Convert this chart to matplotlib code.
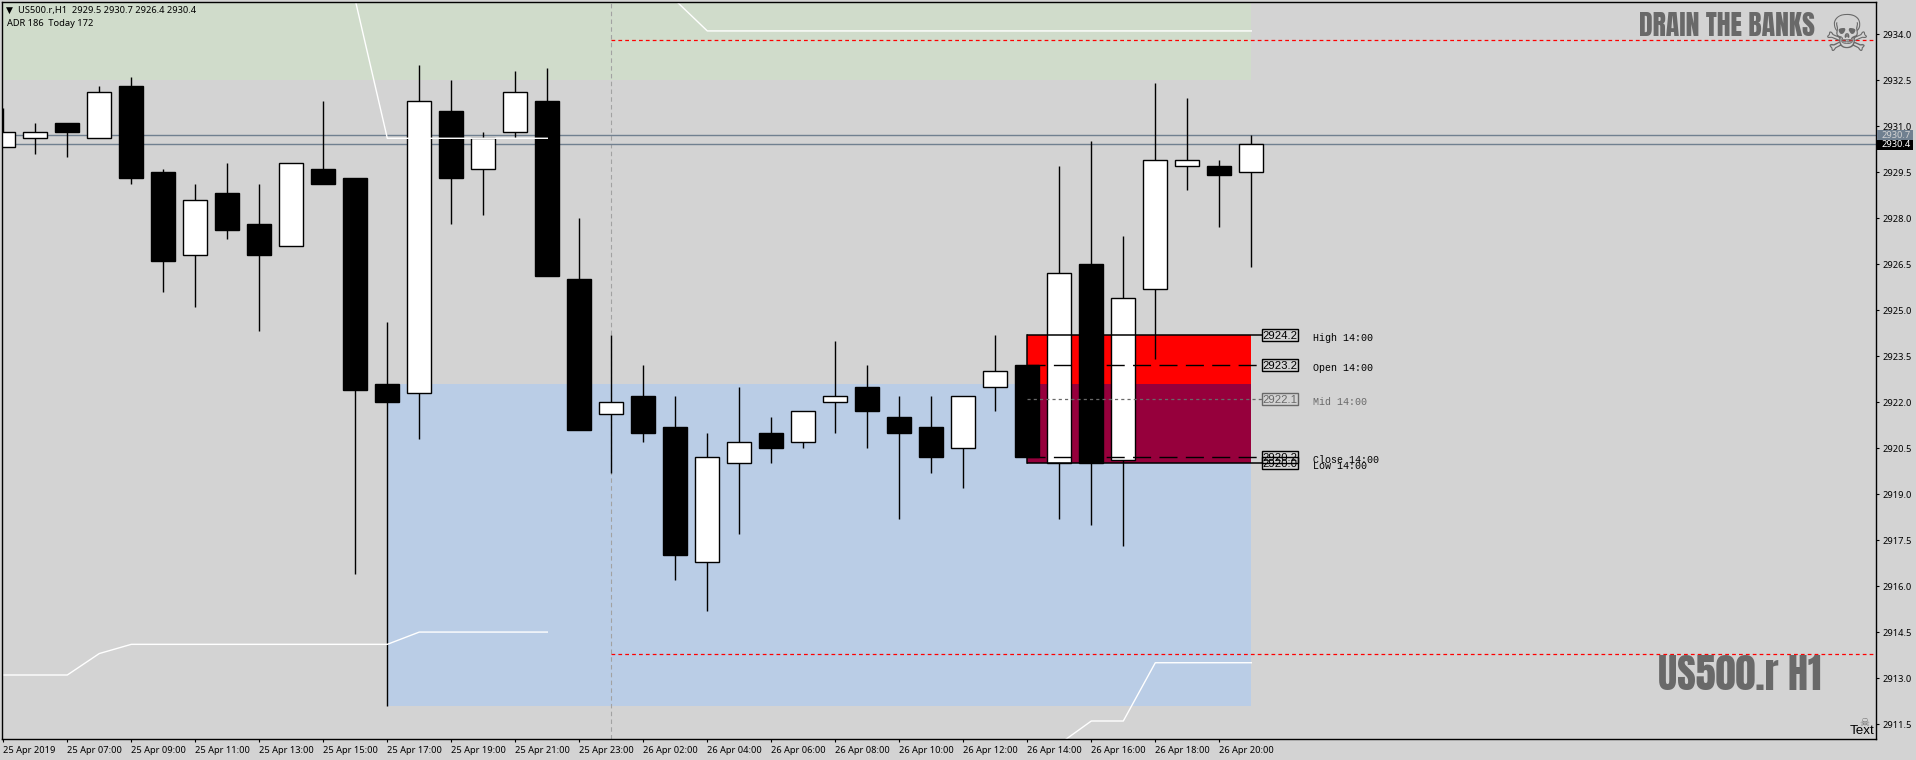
import matplotlib
matplotlib.use('Agg')
import matplotlib.pyplot as plt
from matplotlib.patches import Rectangle
import numpy as np

# hourly candles
opens = [2930.3, 2930.6, 2931.1, 2930.6, 2932.3, 2929.5, 2926.8, 2928.8, 2927.8, 2927.1,
         2929.6, 2929.3, 2922.6, 2922.3, 2931.5, 2929.6, 2930.8, 2931.8, 2926.0, 2921.6,
         2922.2, 2921.2, 2916.8, 2920.0, 2921.0, 2920.7, 2922.0, 2922.5, 2921.5, 2921.2,
         2920.5, 2922.5, 2923.2, 2920.0, 2926.5, 2920.1, 2925.7, 2929.7, 2929.7, 2929.5]
highs = [2931.6, 2931.1, 2931.1, 2932.3, 2932.6, 2929.6, 2929.1, 2929.8, 2929.1, 2929.8,
         2931.8, 2929.3, 2924.6, 2933.0, 2932.5, 2930.8, 2932.8, 2932.9, 2928.0, 2924.2,
         2923.2, 2922.2, 2921.0, 2922.5, 2921.5, 2921.7, 2924.0, 2923.2, 2922.2, 2922.2,
         2922.2, 2924.2, 2923.2, 2929.7, 2930.5, 2927.4, 2932.4, 2931.9, 2929.9, 2930.7]
lows = [2930.3, 2930.1, 2930.0, 2930.6, 2929.1, 2925.6, 2925.1, 2927.3, 2924.3, 2927.1,
        2929.1, 2916.4, 2912.1, 2920.8, 2927.8, 2928.1, 2930.6, 2926.1, 2921.1, 2919.7,
        2920.7, 2916.2, 2915.2, 2917.7, 2920.0, 2920.5, 2921.0, 2920.5, 2918.2, 2919.7,
        2919.2, 2921.7, 2920.2, 2918.2, 2918.0, 2917.3, 2923.4, 2928.9, 2927.7, 2926.4]
closes = [2930.8, 2930.8, 2930.8, 2932.1, 2929.3, 2926.6, 2928.6, 2927.6, 2926.8, 2929.8,
          2929.1, 2922.4, 2922.0, 2931.8, 2929.3, 2930.6, 2932.1, 2926.1, 2921.1, 2922.0,
          2921.0, 2917.0, 2920.2, 2920.7, 2920.5, 2921.7, 2922.2, 2921.7, 2921.0, 2920.2,
          2922.2, 2923.0, 2920.2, 2926.2, 2920.0, 2925.4, 2929.9, 2929.9, 2929.4, 2930.4]

time_labels = ['25 Apr 2019', '25 Apr 07:00', '25 Apr 09:00', '25 Apr 11:00', '25 Apr 13:00',
               '25 Apr 15:00', '25 Apr 17:00', '25 Apr 19:00', '25 Apr 21:00', '25 Apr 23:00',
               '26 Apr 02:00', '26 Apr 04:00', '26 Apr 06:00', '26 Apr 08:00', '26 Apr 10:00',
               '26 Apr 12:00', '26 Apr 14:00', '26 Apr 16:00', '26 Apr 18:00', '26 Apr 20:00']
price_ticks = [2934.0, 2932.5, 2931.0, 2929.5, 2928.0, 2926.5, 2925.0, 2923.5,
               2922.0, 2920.5, 2919.0, 2917.5, 2916.0, 2914.5, 2913.0, 2911.5]

# white indicator line, two pieces on each side
upper_a_x = [11, 12, 17]
upper_a_y = [2935.1, 2930.6, 2930.6]
upper_b_x = [21, 22, 39]
upper_b_y = [2935.1, 2934.1, 2934.1]
lower_a_x = [0, 2, 3, 4, 12, 13, 17]
lower_a_y = [2913.1, 2913.1, 2913.8, 2914.1, 2914.1, 2914.5, 2914.5]
lower_b_x = [33, 34, 35, 36, 39]
lower_b_y = [2910.85, 2911.6, 2911.6, 2913.5, 2913.5]

level_names = ['High', 'Open', 'Mid', 'Close', 'Low']
level_values = [2924.2, 2923.2, 2922.1, 2920.2, 2920.0]

bid_price = 2930.7
ask_price = 2930.4
red_levels = [2933.8, 2913.8]

BG = '#D3D3D3'
GREEN = '#D0DCCB'
BLUE = '#BACDE6'
MAROON = '#96003C'
SLATE = '#708090'
DIM = '#696969'
UI_FONT = ['Noto Sans', 'DejaVu Sans']
POSTER_FONT = ['Anton', 'Liberation Sans']
SKULL_FONT = ['DejaVu Sans']

W, H = 1916, 760
fig = plt.figure(figsize=(W / 100, H / 100), dpi=100, facecolor=BG)
left, right, top, bottom = 2.4, 1875.7, 2.3, 739.3
ax = fig.add_axes([left / W, 1 - bottom / H, (right - left) / W, (bottom - top) / H], facecolor=BG)

px_x = 32.0
px_y = 30.67
ax.set_xlim((left - 3.3) / px_x, (right - 3.3) / px_x)
ax.set_ylim(2934 - (bottom - 34) / px_y, 2934 + (34 - top) / px_y)

x = np.arange(len(opens))
opens = np.array(opens)
closes = np.array(closes)
up = closes > opens

# zones
ax.add_patch(Rectangle((ax.get_xlim()[0], 2932.5), 39 - ax.get_xlim()[0], 3, fc=GREEN, ec='none', zorder=1))
ax.add_patch(Rectangle((12, 2912.1), 27, 10.5, fc=BLUE, ec='none', zorder=1))
ax.add_patch(Rectangle((32, 2922.6), 7, 1.6, fc='#FF0000', ec='none', zorder=1.2))
ax.add_patch(Rectangle((32, 2920.0), 7, 2.6, fc=MAROON, ec='none', zorder=1.2))

# bid / ask and the red levels
ax.axhline(bid_price, color=SLATE, lw=1.0, zorder=1.5)
ax.axhline(ask_price, color=SLATE, lw=1.0, zorder=1.5)
for v in red_levels:
    ax.plot([19, ax.get_xlim()[1]], [v, v], color='#FF0000', lw=0.9, dashes=(3, 2.5), zorder=1.6)
ax.axvline(19, color='#A2A2A2', lw=0.8, dashes=(4, 3), zorder=1.4)

# candles
ax.vlines(x, lows, highs, color='black', lw=1.0, zorder=2)
body = np.abs(closes - opens)
bottoms = np.minimum(opens, closes)
ax.bar(x[up], body[up], bottom=bottoms[up], width=0.74, color='white', edgecolor='black', lw=1.0, zorder=3)
ax.bar(x[~up], body[~up], bottom=bottoms[~up], width=0.76, color='black', edgecolor='black', lw=1.0, zorder=3)

# indicator
for lx, ly in [(upper_a_x, upper_a_y), (upper_b_x, upper_b_y), (lower_a_x, lower_a_y), (lower_b_x, lower_b_y)]:
    ax.plot(lx, ly, color='white', lw=1.0, zorder=4)

# box of the 14:00 candle
box_x = (1262.3 - 3.3) / px_x
box_w = 35.4 / px_x
box_h = 12.0 / px_y
for name, v in zip(level_names, level_values):
    col = DIM if name == 'Mid' else 'black'
    if name in ('High', 'Low'):
        ax.plot([32, box_x], [v, v], color=col, lw=1.1, zorder=5, solid_capstyle='butt')
    elif name == 'Mid':
        ax.plot([32, box_x], [v, v], color=col, lw=0.9, dashes=(2.5, 2.5), zorder=5)
    else:
        ax.plot([32, box_x], [v, v], color=col, lw=1.0, dashes=(13, 6), zorder=5)
    ax.add_patch(Rectangle((box_x, v - box_h / 2), box_w, box_h, fc='none', ec=col, lw=1.0, zorder=5))
    ax.text(box_x + box_w / 2, v, '%.1f' % v, color=col, fontsize=8.2, family=['Liberation Sans', 'DejaVu Sans'],
            ha='center', va='center_baseline', zorder=6)
    ax.text((1313.3 - 3.3) / px_x, v - 0.1, name + ' 14:00', color=col, fontsize=7.2, family='Liberation Mono',
            ha='left', va='center', zorder=6)
ax.plot([32, 32], [2920.0, 2924.2], color='black', lw=1.1, zorder=2.5)

# axes
for s in ax.spines.values():
    s.set_color('black')
    s.set_linewidth(1.0)
    s.set_zorder(8)
ax.yaxis.tick_right()
ax.set_yticks(price_ticks)
ax.set_yticklabels(['%.1f' % p for p in price_ticks], fontsize=6.7, family=UI_FONT, ha='left')
ax.set_xticks(x[::2])
ax.set_xticklabels(time_labels, fontsize=6.7, family=UI_FONT, ha='left')
ax.tick_params(axis='y', length=2.5, width=0.8, pad=2.5, colors='black')
ax.tick_params(axis='x', length=2.5, width=0.8, pad=2, colors='black')

# text in pixel coordinates of the figure
def ftext(px, py, s, **kw):
    return fig.text(px / W, 1 - py / H, s, **kw)

ftext(9.8, 10.7, '\u25bc', fontsize=6.5, color='black', ha='center', va='center', family='DejaVu Sans', zorder=9)
ftext(18.4, 10.7, 'US500.r,H1  2929.5 2930.7 2926.4 2930.4', fontsize=6.7, color='black', va='center', family=UI_FONT, zorder=9)
ftext(7.3, 23.7, 'ADR 186  Today 172', fontsize=6.7, color='black', va='center', family=UI_FONT, zorder=9)

ftext(1639, 25.2, 'DRAIN THE BANKS', fontsize=20, color=DIM, va='center', ha='left', family=POSTER_FONT, zorder=9)
ftext(1847.3, 37, '\u2620', fontsize=37, color=DIM, va='center', ha='center', family=SKULL_FONT, zorder=9)
ftext(1658.3, 675, 'US500.r H1', fontsize=29, color=DIM, va='center', ha='left', family=POSTER_FONT, zorder=9)
ftext(1864, 723.5, '\u2620', fontsize=8, color=DIM, va='center', ha='center', family=SKULL_FONT, zorder=9)
ftext(1849.3, 731.3, 'Text', fontsize=9.6, color='black', va='center', ha='left', family='Liberation Sans', zorder=9)

# bid / ask tags on the price scale
fig.patches.append(Rectangle((1876.7 / W, 1 - 140 / H), 36 / W, 10 / H, transform=fig.transFigure, fc=SLATE, ec='none', zorder=7))
fig.patches.append(Rectangle((1876.7 / W, 1 - 149.5 / H), 36 / W, 9.5 / H, transform=fig.transFigure, fc='black', ec='none', zorder=7))
ftext(1881.3, 135.3, '%.1f' % bid_price, fontsize=6.7, color='#D3D3D3', va='center', family=UI_FONT, zorder=9)
ftext(1881.3, 144.6, '%.1f' % ask_price, fontsize=6.7, color='white', va='center', family=UI_FONT, zorder=9)

fig.savefig('out.png', dpi=100, facecolor=BG)
